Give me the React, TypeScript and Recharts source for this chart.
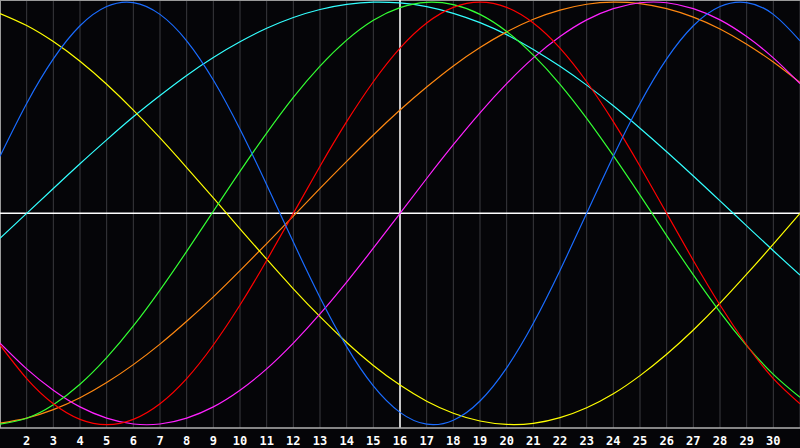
import { LineChart, Line, XAxis, YAxis, CartesianGrid, ReferenceLine } from 'recharts';

const days = [
  1, 2, 3, 4, 5, 6, 7, 8, 9, 10, 11, 12, 13, 14, 15, 16,
  17, 18, 19, 20, 21, 22, 23, 24, 25, 26, 27, 28, 29, 30, 31,
];
const tickDays = days.slice(1, 30);

const physical = [
  27.0, 52.0, 73.1, 88.8, 97.9, 99.8, 94.2, 81.7, 63.1, 39.8, 13.6, -13.6, -39.8, -63.1, -81.7, -94.2,
  -99.8, -97.9, -88.8, -73.1, -52.0, -27.0, 0, 27.0, 52.0, 73.1, 88.8, 97.9, 99.8, 94.2, 81.7,
];
const emotional = [
  -62.3, -78.2, -90.1, -97.5, -100, -97.5, -90.1, -78.2, -62.3, -43.4, -22.3, 0, 22.3, 43.4, 62.3, 78.2,
  90.1, 97.5, 100, 97.5, 90.1, 78.2, 62.3, 43.4, 22.3, 0, -22.3, -43.4, -62.3, -78.2, -90.1,
];
const intellectual = [
  -99.8, -97.0, -90.6, -80.9, -68.3, -53.3, -36.3, -18.0, 1.0, 19.9, 38.0, 54.9, 69.7, 82.0, 91.4, 97.4,
  99.9, 98.8, 94.2, 86.1, 74.9, 61.1, 45.0, 27.3, 8.6, -10.5, -29.1, -46.7, -62.6, -76.2, -87.1,
];
const intuitive = [
  -61.4, -73.6, -83.7, -91.6, -96.9, -99.7, -99.7, -96.9, -91.6, -83.7, -73.6, -61.4, -47.6, -32.5, -16.5, 0,
  16.5, 32.5, 47.6, 61.4, 73.6, 83.7, 91.6, 96.9, 99.7, 99.7, 96.9, 91.6, 83.7, 73.6, 61.4,
];
const aesthetic = [
  94.6, 88.9, 81.3, 72.0, 61.1, 48.9, 35.7, 21.7, 7.3, -7.3, -21.7, -35.7, -48.9, -61.1, -72.0, -81.3,
  -88.9, -94.6, -98.3, -99.9, -99.4, -96.7, -92.0, -85.4, -76.8, -66.7, -55.2, -42.5, -28.8, -14.6, 0,
];
const awareness = [
  -99.3, -96.9, -92.9, -87.3, -80.1, -71.6, -61.9, -51.1, -39.5, -27.1, -14.3, -1.3, 11.8, 24.6, 37.1, 48.9,
  59.8, 69.8, 78.5, 85.9, 91.9, 96.2, 99.0, 100, 99.3, 96.9, 92.9, 87.3, 80.1, 71.6, 61.9,
];
const spiritual = [
  -11.8, 0, 11.8, 23.5, 34.8, 45.7, 55.8, 65.3, 73.8, 81.2, 87.6, 92.7, 96.5, 98.9, 100, 99.6,
  97.9, 94.7, 90.3, 84.6, 77.6, 69.6, 60.7, 50.9, 40.3, 29.2, 17.7, 5.9, -5.9, -17.7, -29.2,
];

const series = [
  { key: 'spiritual', color: '#33ffff' },
  { key: 'awareness', color: '#ff8811' },
  { key: 'aesthetic', color: '#ffff00' },
  { key: 'intuitive', color: '#ff22ff' },
  { key: 'intellectual', color: '#33ff33' },
  { key: 'emotional', color: '#ff0000' },
  { key: 'physical', color: '#1a6cff' },
];

const data = days.map((day, i) => ({
  day,
  physical: physical[i],
  emotional: emotional[i],
  intellectual: intellectual[i],
  intuitive: intuitive[i],
  aesthetic: aesthetic[i],
  awareness: awareness[i],
  spiritual: spiritual[i],
}));

const Y_MIN = -101.6;
const Y_MAX = 101;

export default function App() {
  return (
    <div style={{ position: 'absolute', left: 0, top: 0, width: 800, height: 448, background: '#050508' }}>
      <LineChart width={800} height={448} data={data} margin={{ top: 0, right: 0, bottom: 0, left: 0 }}>
        <CartesianGrid vertical horizontal={false} stroke="#3a3a3e" strokeWidth={1} />
        <XAxis
          dataKey="day"
          type="number"
          domain={[1, 31]}
          ticks={tickDays}
          interval={0}
          height={20}
          tickLine={false}
          axisLine={{ stroke: '#b0b0b0', strokeWidth: 1.5 }}
          tick={{ fill: '#ffffff', fontSize: 12, fontWeight: 'bold', fontFamily: 'DejaVu Sans Mono' }}
          tickMargin={2}
        />
        <YAxis hide domain={[Y_MIN, Y_MAX]} />
        <ReferenceLine x={1} stroke="#9a9a9a" strokeWidth={2} />
        <ReferenceLine y={Y_MAX} stroke="#9a9a9a" strokeWidth={2} />
        <ReferenceLine x={16} stroke="#ffffff" strokeWidth={1.5} />
        <ReferenceLine y={0} stroke="#ffffff" strokeWidth={1.5} />
        {series.map((s) => (
          <Line
            key={s.key}
            type="natural"
            dataKey={s.key}
            stroke={s.color}
            strokeWidth={1.2}
            dot={false}
            activeDot={false}
            isAnimationActive={false}
          />
        ))}
      </LineChart>
    </div>
  );
}
